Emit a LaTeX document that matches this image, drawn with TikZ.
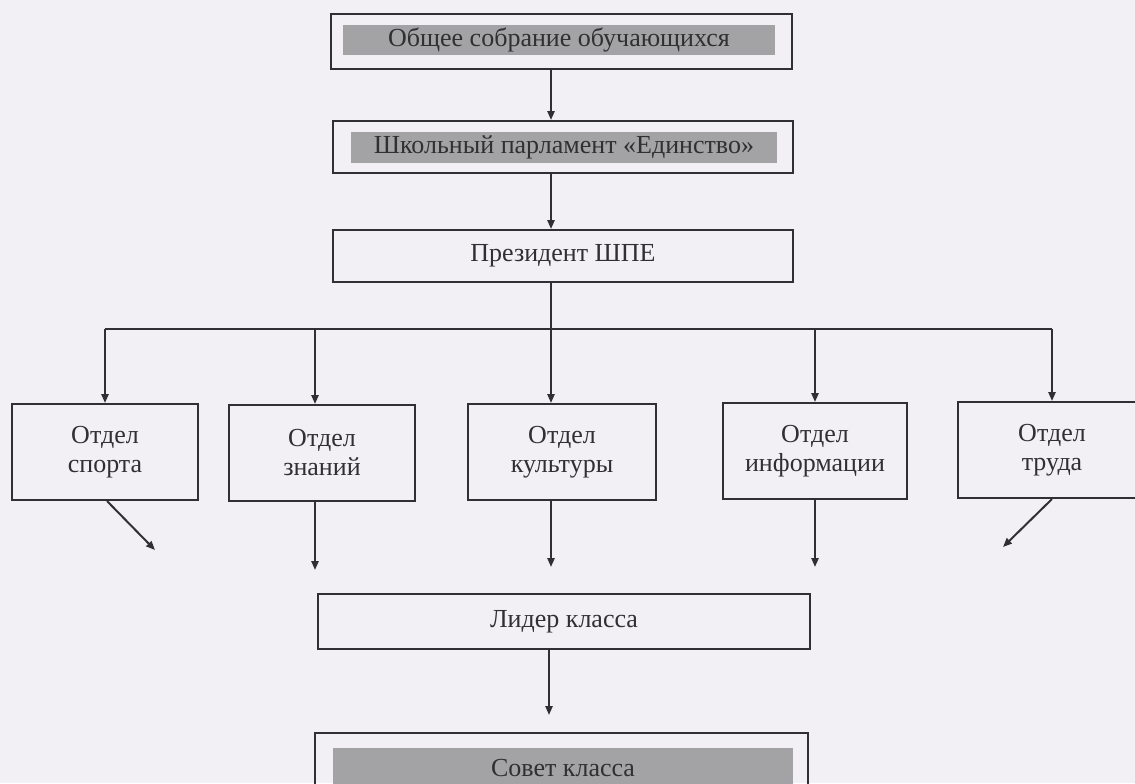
\documentclass[tikz,border=0pt]{standalone}
\usepackage{fontspec}
\setmainfont{Liberation Serif}
\usetikzlibrary{arrows.meta}
\definecolor{bg}{RGB}{242,240,245}
\definecolor{ink}{RGB}{48,48,50}
\definecolor{bandgray}{RGB}{163,163,166}
\tikzset{
  frame/.style={draw=ink, line width=1pt, rectangle, inner sep=0pt},
  txt/.style={text=ink, font=\fontsize{13}{14.5}\selectfont},
  bandbox/.style={fill=bandgray, rectangle, inner sep=0pt, txt},
  dept/.style={frame, txt, align=center, minimum height=48pt, minimum width=93pt},
  conn/.style={draw=ink, line width=1pt, -{Triangle[length=4.5pt,width=3.6pt]}},
  plain/.style={draw=ink, line width=1pt}
}
\begin{document}
\begin{tikzpicture}[x=0.5pt,y=-0.5pt]
\useasboundingbox[fill=bg] (0,0) rectangle (1135,783);

% top boxes
\node[frame, minimum width=230.5pt, minimum height=27.5pt] (b1) at (561.5,41.5) {};
\node[bandbox, minimum width=216pt, minimum height=15pt] (b1t) at (559,40) {Общее собрание обучающихся};

\node[frame, minimum width=230pt, minimum height=26pt] (b2) at (563,147) {};
\node[bandbox, minimum width=213pt, minimum height=15.5pt] (b2t) at (564,147.5) {Школьный парламент «Единство»};

\node[frame, txt, minimum width=230pt, minimum height=26pt] (b3) at (563,256) {Президент ШПЕ};

% columns
\coordinate (c0) at (551,329);
\coordinate (c1) at (105,329);
\coordinate (c2) at (315,329);
\coordinate (c4) at (815,329);
\coordinate (c5) at (1052,329);

% departments
\node[dept] (d1) at (105,452) {Отдел\\спорта};
\node[dept] (d2) at (322,453) {Отдел\\знаний};
\node[dept, minimum width=94pt] (d3) at (562,452) {Отдел\\культуры};
\node[dept, minimum width=92pt] (d4) at (815,451) {Отдел\\информации};
\node[dept, minimum width=94pt] (d5) at (1052,450) {Отдел\\труда};

% leader and council
\node[frame, txt, minimum width=246pt, minimum height=27.5pt] (lead) at (564,621.5) {Лидер класса};
\node[frame, minimum width=246.5pt, minimum height=32pt] (sov) at (561.5,765) {};
\node[bandbox, minimum width=230pt, minimum height=20pt] (sovt) at (563,768) {Совет класса};

% free ends
\coordinate (e1) at (155,550);
\coordinate (e2) at (315,570);
\coordinate (e3) at (551,567);
\coordinate (e4) at (815,567);
\coordinate (e5) at (1003,547);
\coordinate (e6) at (549,715);

% connectors
\draw[conn] (b1.south -| c0) -- (b2.north -| c0);
\draw[conn] (b2.south -| c0) -- (b3.north -| c0);
\draw[plain] (b3.south -| c0) -- (c0);
\draw[plain] (c1) -- (c5);
\draw[conn] (c1) -- (d1.north -| c1);
\draw[conn] (c2) -- (d2.north -| c2);
\draw[conn] (c0) -- (d3.north -| c0);
\draw[conn] (c4) -- (d4.north -| c4);
\draw[conn] (c5) -- (d5.north -| c5);

\draw[conn] ([xshift=1pt]d1.south) -- (e1);
\draw[conn] (d2.south -| e2) -- (e2);
\draw[conn] (d3.south -| e3) -- (e3);
\draw[conn] (d4.south -| e4) -- (e4);
\draw[conn] (d5.south) -- (e5);
\draw[conn] (lead.south -| e6) -- (e6);
\end{tikzpicture}
\end{document}
